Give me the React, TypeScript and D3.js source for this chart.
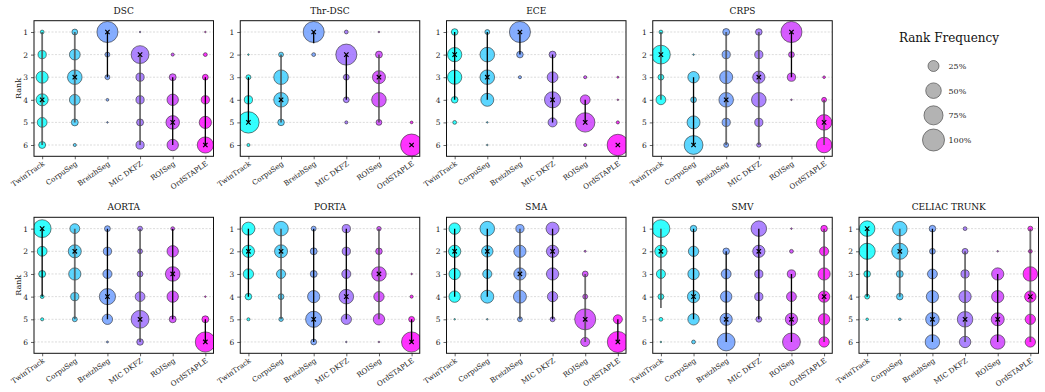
import React, { useEffect, useRef } from 'react';
import * as d3 from 'd3';

const methods = ['TwinTrack', 'CorpuSeg', 'BreizhSeg', 'MIC DKFZ', 'ROISeg', 'OrdSTAPLE'];
const ranks = [1, 2, 3, 4, 5, 6];
const legendLevels = [25, 50, 75, 100];

// rank frequency (%) per method, ranks 1..6
const dscFreq = [
  [3, 14, 30, 30, 20, 10],
  [7, 24, 44, 24, 10, 2],
  [92, 5, 5, 1.5, 0.5, 0],
  [0.5, 66, 14, 14, 10, 14],
  [0, 2, 10, 27, 38, 27],
  [0.5, 3, 7, 14, 31, 54],
];
const dscMedian = [4, 3, 1, 2, 5, 6];
const dscSpan = [[1, 6], [1, 5], [1, 3], [2, 6], [3, 6], [3, 6]];
const dscDark = [0, 0, 1, 0, 1, 1];

const thrDscFreq = [
  [0, 0.5, 5, 14, 95, 2],
  [0, 5, 44, 44, 9, 0],
  [92, 3, 0, 0, 0, 0],
  [3, 92, 7, 7, 2, 0],
  [0.5, 10, 35, 44, 7, 0],
  [0, 0, 0, 0, 1.5, 100],
];
const thrDscMedian = [5, 4, 1, 2, 3, 6];
const thrDscSpan = [[3, 5], [2, 5], [1, 1.5], [2, 4], [2, 5], [6, 6]];
const thrDscDark = [1, 0, 1, 1, 0, 1];

const eceFreq = [
  [9, 42, 42, 9, 3, 0],
  [5, 44, 44, 35, 0.5, 0.5],
  [92, 9, 2, 0, 0, 0],
  [0, 10, 24, 54, 17, 0],
  [0, 0, 2, 20, 78, 2],
  [0, 0, 0.8, 0.5, 2, 95],
];
const eceMedian = [2, 3, 1, 4, 5, 6];
const eceSpan = [[1, 4], [1, 4], [1, 2], [2, 5], [4, 5], [6, 6]];
const eceDark = [1, 1, 1, 1, 1, 1];

const crpsFreq = [
  [3, 73, 7, 20, 0, 0],
  [0, 0.5, 27, 7, 35, 73],
  [10, 14, 35, 44, 14, 5],
  [9, 14, 31, 44, 14, 4],
  [92, 7, 14, 0.5, 0, 0],
  [0, 0, 1.4, 5, 50, 50],
];
const crpsMedian = [2, 6, 4, 3, 1, 5];
const crpsSpan = [[1, 4], [3, 6], [1, 6], [1, 6], [1, 3], [4, 6]];
const crpsDark = [0, 1, 0, 0, 1, 0];

const aortaFreq = [
  [66, 20, 10, 3, 2, 0],
  [20, 35, 31, 14, 5, 0],
  [7, 14, 17, 54, 22, 0.8],
  [5, 5, 7, 20, 66, 9],
  [3, 27, 44, 27, 10, 0],
  [0, 0, 0, 0.5, 10, 84],
];
const aortaMedian = [1, 2, 4, 5, 3, 6];
const aortaSpan = [[1, 4], [1, 5], [1, 5], [1, 6], [1, 5], [5, 6]];
const aortaDark = [1, 0, 1, 0, 1, 1];

const portaFreq = [
  [35, 31, 22, 9, 2, 0],
  [44, 35, 17, 7, 4, 0],
  [5, 10, 10, 31, 54, 7],
  [14, 14, 17, 44, 22, 0.5],
  [4, 9, 44, 22, 27, 0.5],
  [0, 0, 0.5, 2, 7, 84],
];
const portaMedian = [2, 2, 5, 4, 3, 6];
const portaSpan = [[1, 4], [1, 5], [1, 6], [1, 5], [1, 5], [5, 6]];
const portaDark = [1, 0, 1, 1, 0, 1];

const smaFreq = [
  [27, 31, 27, 27, 0.5, 0],
  [44, 27, 17, 35, 0.5, 0],
  [14, 31, 31, 35, 5, 0],
  [35, 31, 31, 22, 5, 0],
  [0, 0.8, 7, 5, 92, 17],
  [0, 0, 0, 0, 17, 92],
];
const smaMedian = [2, 2, 3, 2, 5, 6];
const smaSpan = [[1, 4], [1, 4], [1, 5], [1, 5], [3, 6], [5, 6]];
const smaDark = [1, 1, 0, 1, 0, 1];

const smvFreq = [
  [66, 31, 17, 7, 3, 0.5],
  [9, 22, 27, 31, 27, 3],
  [0, 9, 20, 27, 31, 66],
  [50, 31, 14, 14, 7, 0],
  [0.5, 3, 14, 20, 31, 66],
  [9, 17, 31, 27, 27, 22],
];
const smvMedian = [2, 4, 5, 2, 5, 4];
const smvSpan = [[1, 4.5], [1, 5], [2, 6], [1, 5], [3, 6], [1, 6]];
const smvDark = [0, 1, 1, 1, 1, 0];

const celiacFreq = [
  [50, 54, 9, 5, 1.4, 0],
  [44, 54, 10, 9, 1.4, 0],
  [9, 7, 20, 31, 38, 44],
  [3, 7, 14, 31, 50, 27],
  [0, 0.5, 31, 31, 35, 44],
  [5, 3, 44, 27, 22, 22],
];
const celiacMedian = [1, 2, 5, 5, 5, 4];
const celiacSpan = [[1, 4], [1, 4], [1, 6], [2, 6], [3, 6], [1, 6]];
const celiacDark = [1, 0, 1, 0, 1, 0];

const panels = [
  { title: 'DSC', freq: dscFreq, median: dscMedian, span: dscSpan, dark: dscDark },
  { title: 'Thr-DSC', freq: thrDscFreq, median: thrDscMedian, span: thrDscSpan, dark: thrDscDark },
  { title: 'ECE', freq: eceFreq, median: eceMedian, span: eceSpan, dark: eceDark },
  { title: 'CRPS', freq: crpsFreq, median: crpsMedian, span: crpsSpan, dark: crpsDark },
  { title: 'AORTA', freq: aortaFreq, median: aortaMedian, span: aortaSpan, dark: aortaDark },
  { title: 'PORTA', freq: portaFreq, median: portaMedian, span: portaSpan, dark: portaDark },
  { title: 'SMA', freq: smaFreq, median: smaMedian, span: smaSpan, dark: smaDark },
  { title: 'SMV', freq: smvFreq, median: smvMedian, span: smvSpan, dark: smvDark },
  { title: 'CELIAC TRUNK', freq: celiacFreq, median: celiacMedian, span: celiacSpan, dark: celiacDark },
];

const W = 1045;
const H = 392;
const FONT = '"DejaVu Serif", serif';

const App: React.FC = () => {
  const svgRef = useRef<SVGSVGElement>(null);

  useEffect(() => {
    if (!svgRef.current) return;
    const svg = d3.select(svgRef.current);
    svg.selectAll('*').remove();

    const frameW = 179.5;
    const colStep = 206.25;
    const rows = [[20.7, 156.3], [217.3, 353.3]];

    // matplotlib "cool" colormap sampled across the six methods
    const color = d3.scaleLinear<string>().domain([0, methods.length - 1]).range(['#00ffff', '#ff00ff']);
    const rScale = d3.scaleSqrt().domain([0, 100]).range([0, 11]);

    panels.forEach((p, idx) => {
      const row = idx < 4 ? 0 : 1;
      const col = idx < 4 ? idx : idx - 4;
      const x0 = 34 + col * colStep;
      const [y0, y1] = rows[row];

      const x = d3.scaleLinear().domain([-0.25, methods.length - 0.75]).range([x0, x0 + frameW]);
      const y = d3.scaleLinear().domain([0.5, 6.5]).range([y0, y1]);

      const g = svg.append('g');
      const clipId = `clip-${idx}`;
      g.append('clipPath').attr('id', clipId)
        .append('rect')
        .attr('x', x0).attr('y', y0)
        .attr('width', frameW).attr('height', y1 - y0);

      // dashed rank grid
      g.selectAll('line.grid')
        .data(ranks)
        .enter()
        .append('line')
        .attr('x1', x0).attr('x2', x0 + frameW)
        .attr('y1', d => y(d)).attr('y2', d => y(d))
        .attr('stroke', '#c4c4c4')
        .attr('stroke-width', 0.6)
        .attr('stroke-dasharray', '2,1.5');

      const plot = g.append('g').attr('clip-path', `url(#${clipId})`);

      // frequency bubbles
      const cells: { m: number; r: number; f: number }[] = [];
      p.freq.forEach((row, m) => row.forEach((f, r) => { if (f > 0) cells.push({ m, r: ranks[r], f }); }));
      plot.selectAll('circle')
        .data(cells)
        .enter()
        .append('circle')
        .attr('cx', d => x(d.m))
        .attr('cy', d => y(d.r))
        .attr('r', d => rScale(d.f))
        .attr('fill', d => color(d.m))
        .attr('fill-opacity', 0.8)
        .attr('stroke', '#2a2a2a')
        .attr('stroke-opacity', 0.75)
        .attr('stroke-width', 0.8);

      // rank spread lines
      plot.selectAll('line.span')
        .data(p.span.map((s, m) => ({ m, lo: s[0], hi: s[1], dark: p.dark[m] })))
        .enter()
        .append('line')
        .attr('x1', d => x(d.m)).attr('x2', d => x(d.m))
        .attr('y1', d => y(d.lo)).attr('y2', d => y(d.hi))
        .attr('stroke', d => (d.dark ? '#000' : '#4a4a4a'))
        .attr('stroke-opacity', d => (d.dark ? 1 : 0.8))
        .attr('stroke-width', d => (d.dark ? 1.3 : 1.8));

      // median markers
      const s = 2.2;
      plot.selectAll('path.median')
        .data(p.median.map((v, m) => ({ m, v })))
        .enter()
        .append('path')
        .attr('d', d => {
          const cx = x(d.m);
          const cy = y(d.v);
          return `M${cx - s},${cy - s}L${cx + s},${cy + s}M${cx - s},${cy + s}L${cx + s},${cy - s}`;
        })
        .attr('stroke', '#000')
        .attr('stroke-width', 1.2);

      // axes
      const yAxis = g.append('g')
        .attr('transform', `translate(${x0},0)`)
        .call(d3.axisLeft(y).tickValues(ranks).tickFormat(d3.format('d')).tickSize(3).tickPadding(3));
      yAxis.select('.domain').remove();
      yAxis.selectAll('line').attr('stroke', '#222').attr('stroke-width', 0.7);
      yAxis.selectAll('text').attr('font-family', FONT).attr('font-size', 7.5).attr('fill', '#222');

      const xAxis = g.append('g')
        .attr('transform', `translate(0,${y1})`)
        .call(d3.axisBottom(x).tickValues(d3.range(methods.length)).tickFormat(i => methods[i as number]).tickSize(3));
      xAxis.select('.domain').remove();
      xAxis.selectAll('line').attr('stroke', '#222').attr('stroke-width', 0.7);
      xAxis.selectAll('text')
        .attr('font-family', FONT)
        .attr('font-size', 7.2)
        .attr('fill', '#222')
        .attr('text-anchor', 'end')
        .attr('x', 0).attr('y', 0).attr('dy', 0)
        .attr('transform', 'translate(2.5,8.5) rotate(-35)');

      // frame
      g.append('rect')
        .attr('x', x0).attr('y', y0)
        .attr('width', frameW).attr('height', y1 - y0)
        .attr('fill', 'none')
        .attr('stroke', '#111')
        .attr('stroke-width', 1);

      g.append('text')
        .attr('x', x0 + frameW / 2)
        .attr('y', y0 - 7)
        .attr('text-anchor', 'middle')
        .attr('font-family', FONT)
        .attr('font-size', 9)
        .attr('fill', '#111')
        .text(p.title);

      if (col === 0) {
        g.append('text')
          .attr('transform', `translate(20.5,${(y0 + y1) / 2}) rotate(-90)`)
          .attr('text-anchor', 'middle')
          .attr('font-family', FONT)
          .attr('font-size', 8)
          .attr('fill', '#111')
          .text('Rank');
      }
    });

    // size legend
    const legend = svg.append('g');
    legend.append('text')
      .attr('x', 949)
      .attr('y', 42)
      .attr('text-anchor', 'middle')
      .attr('font-family', FONT)
      .attr('font-size', 12)
      .attr('fill', '#111')
      .text('Rank Frequency');

    const ly = d3.scalePoint<number>().domain(legendLevels).range([66, 140]);
    const items = legend.selectAll('g.item')
      .data(legendLevels)
      .enter()
      .append('g')
      .attr('transform', d => `translate(933.5,${ly(d)})`);
    items.append('circle')
      .attr('r', d => rScale(d))
      .attr('fill', '#999')
      .attr('fill-opacity', 0.75)
      .attr('stroke', '#444')
      .attr('stroke-opacity', 0.8)
      .attr('stroke-width', 0.8);
    items.append('text')
      .attr('x', 15)
      .attr('y', 3)
      .attr('font-family', FONT)
      .attr('font-size', 8)
      .attr('fill', '#222')
      .text(d => `${d}%`);
  }, []);

  return (
    <svg
      ref={svgRef}
      width={W}
      height={H}
      style={{ position: 'fixed', left: 0, top: 0, background: '#fff' }}
    />
  );
};

export default App;
